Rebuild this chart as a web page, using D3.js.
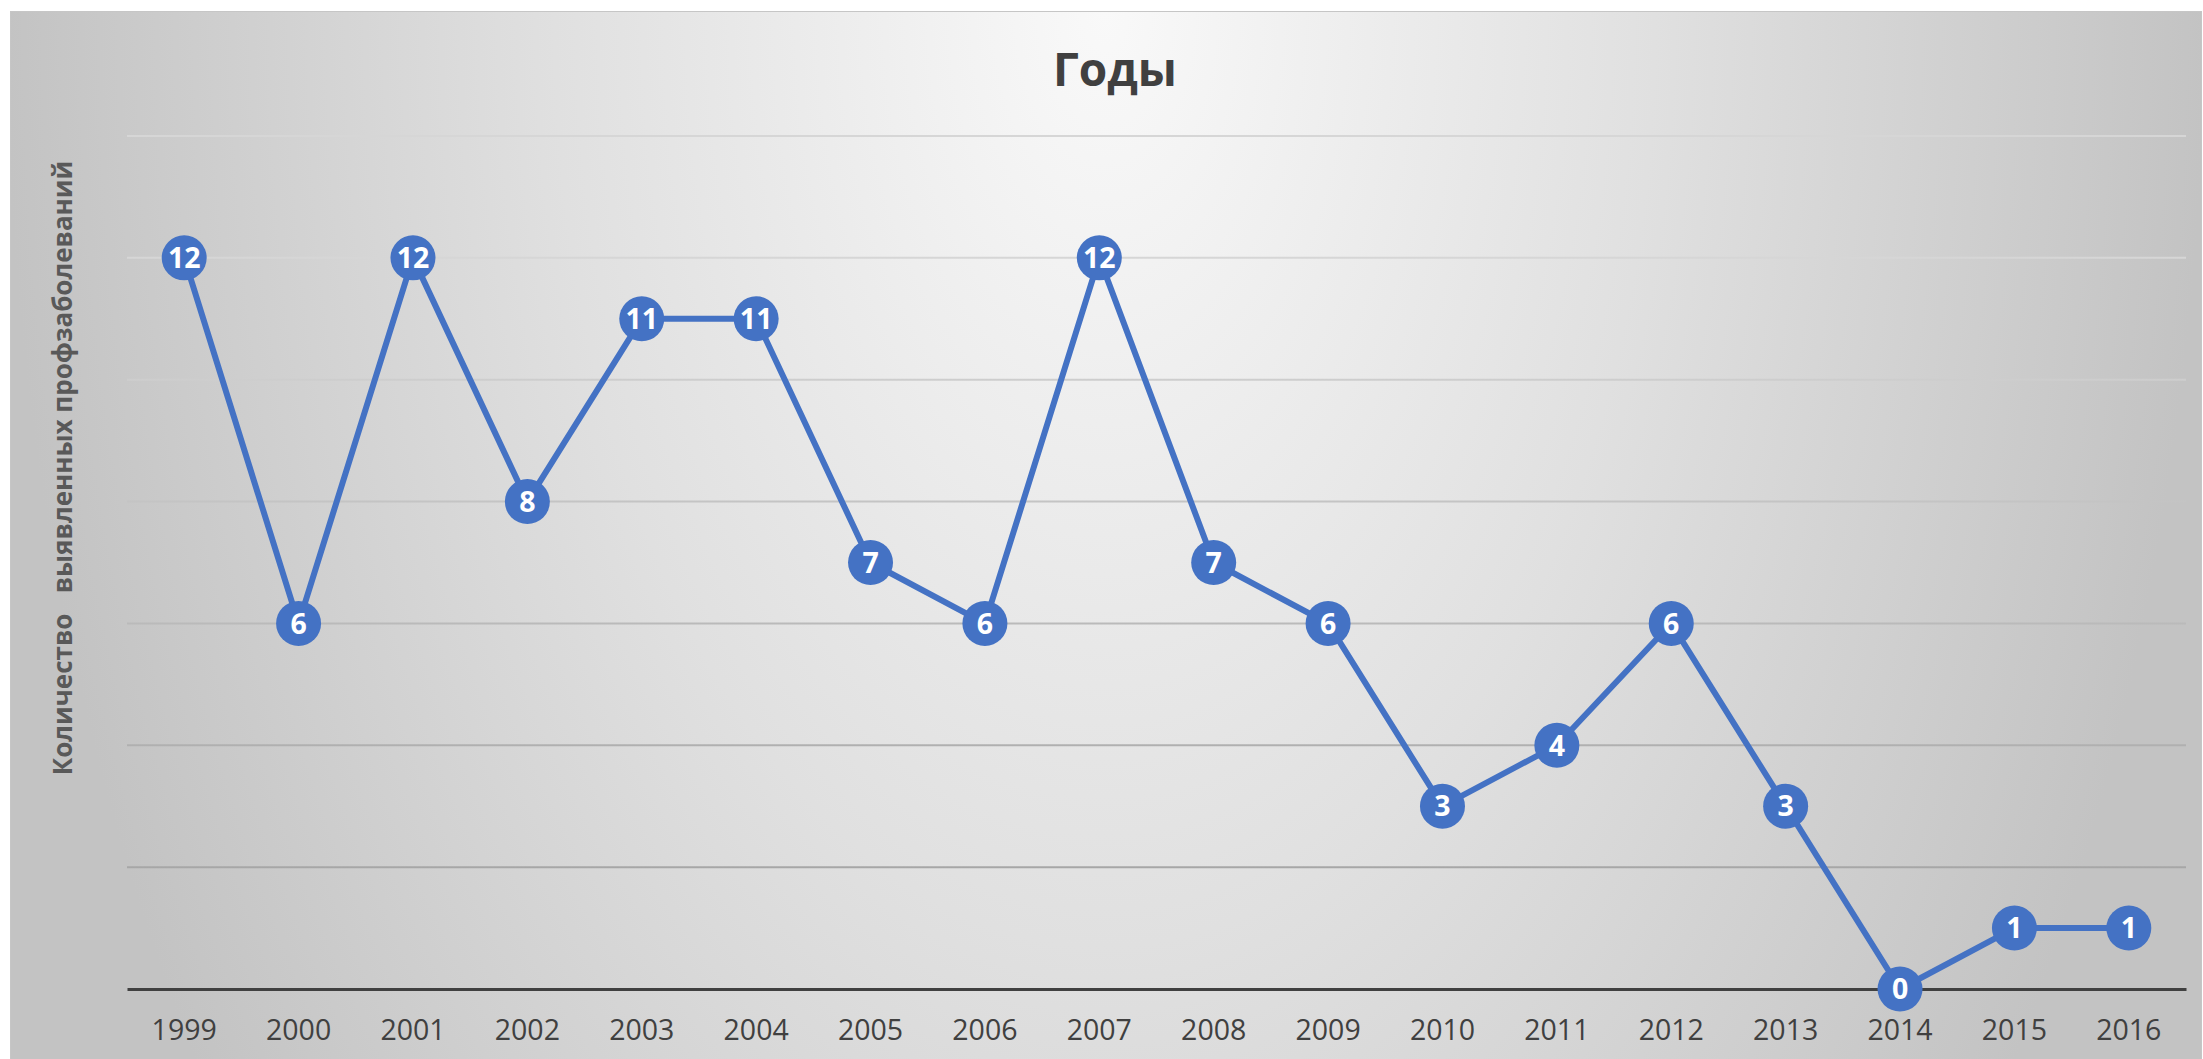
<!DOCTYPE html>
<html>
<head>
<meta charset="utf-8">
<script src="https://cdn.jsdelivr.net/npm/d3@7"></script>
<style>
  body { margin: 0; background: #fff; }
  svg { display: block; }
</style>
</head>
<body>
<div id="chart"></div>
<script>
// Chart data
const years = ["1999", "2000", "2001", "2002", "2003", "2004", "2005", "2006", "2007",
  "2008", "2009", "2010", "2011", "2012", "2013", "2014", "2015", "2016"];
const cases = [12, 6, 12, 8, 11, 11, 7, 6, 12, 7, 6, 3, 4, 6, 3, 0, 1, 1];
const yTicks = [0, 2, 4, 6, 8, 10, 12, 14];
const titleText = "Годы";
const yLabelText = "Количество   выявленных профзаболеваний";

const WIDTH = 2203;
const HEIGHT = 1059;
const MARGIN = { left: 127, right: 17, top: 136, bottom: 70 };
const FONT = "'Open Sans', 'Noto Sans', sans-serif";
const BLUE = "#4472c4";

const svg = d3.select("#chart")
  .append("svg")
  .attr("width", WIDTH)
  .attr("height", HEIGHT);

const defs = svg.append("defs");

// background: light at top centre, darker towards the edges
const bg = defs.append("radialGradient")
  .attr("id", "bgGrad")
  .attr("gradientUnits", "userSpaceOnUse")
  .attr("cx", 1105).attr("cy", 11).attr("r", 1100)
  .attr("fx", 1105).attr("fy", 11)
  .attr("gradientTransform", "translate(1105,11) scale(1,1.7) translate(-1105,-11)");
bg.append("stop").attr("offset", "0%").attr("stop-color", "#f9f9f9");
bg.append("stop").attr("offset", "50%").attr("stop-color", "#e0e0e0");
bg.append("stop").attr("offset", "100%").attr("stop-color", "#c3c3c3");

// gridlines fade from light at top to darker at bottom
const gridGrad = defs.append("linearGradient")
  .attr("id", "gridGrad")
  .attr("gradientUnits", "userSpaceOnUse")
  .attr("x1", 0).attr("y1", MARGIN.top)
  .attr("x2", 0).attr("y2", HEIGHT - MARGIN.bottom);
gridGrad.append("stop").attr("offset", "0%").attr("stop-color", "#d6d6d6");
gridGrad.append("stop").attr("offset", "100%").attr("stop-color", "#929292");

svg.append("rect")
  .attr("x", 10.5).attr("y", 11.5)
  .attr("width", 2191).attr("height", 1050)
  .attr("fill", "url(#bgGrad)")
  .attr("stroke", "#c6c6c6")
  .attr("stroke-width", 1);

const innerW = WIDTH - MARGIN.left - MARGIN.right;
const innerH = HEIGHT - MARGIN.top - MARGIN.bottom;

const g = svg.append("g")
  .attr("transform", `translate(${MARGIN.left}, ${MARGIN.top})`);

const x = d3.scaleBand()
  .domain(years)
  .range([0, innerW]);

const y = d3.scaleLinear()
  .domain([0, 14])
  .range([innerH, 0]);

// gridlines
g.append("g")
  .attr("class", "grid")
  .selectAll("line")
  .data(yTicks.filter((d) => d > 0))
  .enter()
  .append("line")
  .attr("x1", 0)
  .attr("x2", innerW)
  .attr("y1", (d) => y(d))
  .attr("y2", (d) => y(d))
  .attr("stroke", "url(#gridGrad)")
  .attr("stroke-width", 2);

// x axis
const xAxis = g.append("g")
  .attr("class", "x-axis")
  .attr("transform", `translate(0, ${innerH})`)
  .call(d3.axisBottom(x).tickSize(0).tickPadding(31));
xAxis.select(".domain")
  .attr("stroke", "#404040")
  .attr("stroke-width", 3);
xAxis.selectAll("text")
  .attr("font-family", FONT)
  .attr("font-size", 28.5)
  .attr("fill", "#404040");

// line
const line = d3.line()
  .x((d, i) => x(years[i]) + x.bandwidth() / 2)
  .y((d) => y(d));

g.append("path")
  .datum(cases)
  .attr("class", "line")
  .attr("d", line)
  .attr("fill", "none")
  .attr("stroke", BLUE)
  .attr("stroke-width", 6)
  .attr("stroke-linejoin", "round");

// markers with labels
const pts = g.selectAll("g.pt")
  .data(cases)
  .enter()
  .append("g")
  .attr("class", "pt")
  .attr("transform", (d, i) => `translate(${x(years[i]) + x.bandwidth() / 2}, ${y(d)})`);

pts.append("circle")
  .attr("r", 22.5)
  .attr("fill", BLUE);

pts.append("text")
  .attr("text-anchor", "middle")
  .attr("dy", "0.36em")
  .attr("font-family", FONT)
  .attr("font-weight", "bold")
  .attr("font-size", 28.5)
  .attr("fill", "#ffffff")
  .text((d) => d);

// title
svg.append("text")
  .attr("x", 1115)
  .attr("y", 86)
  .attr("text-anchor", "middle")
  .attr("font-family", FONT)
  .attr("font-weight", "bold")
  .attr("font-size", 46)
  .attr("fill", "#404040")
  .text(titleText);

// y axis label
svg.append("text")
  .attr("transform", `translate(72, 468) rotate(-90)`)
  .attr("text-anchor", "middle")
  .attr("font-family", FONT)
  .attr("font-weight", "bold")
  .attr("font-size", 26)
  .attr("fill", "#595959")
  .style("white-space", "pre")
  .text(yLabelText);
</script>
</body>
</html>
